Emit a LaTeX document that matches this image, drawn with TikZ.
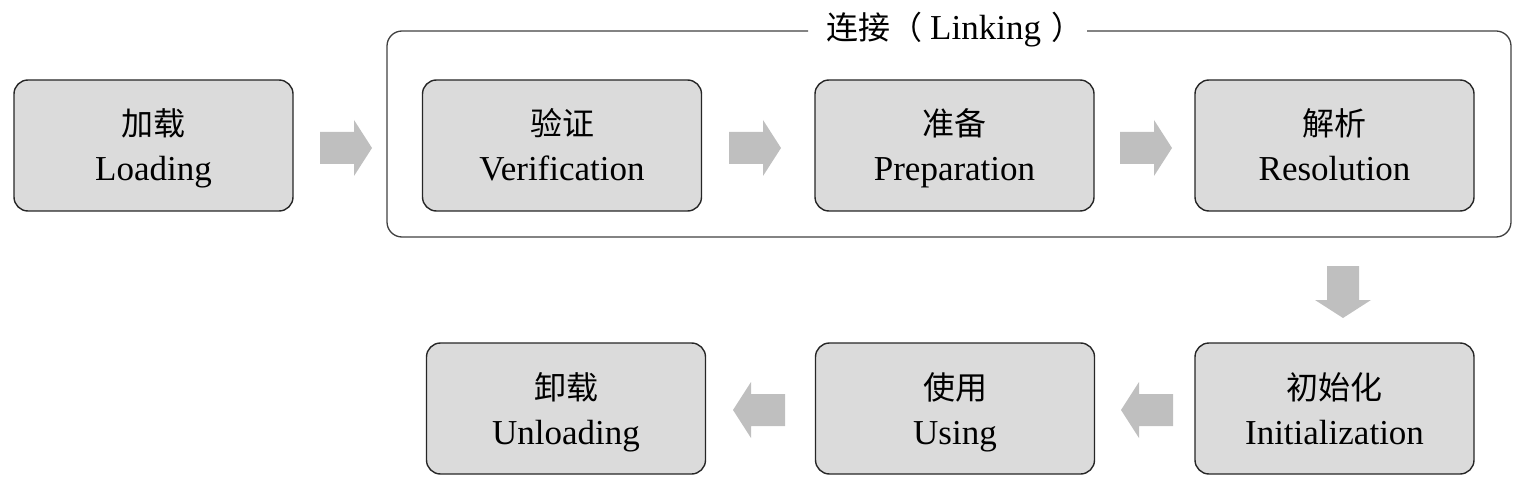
\documentclass[tikz,border=0pt]{standalone}
\usepackage{fontspec}
\setmainfont{Liberation Serif}
\newfontfamily\cjk[Scale=0.914]{Noto Sans CJK SC}
\newcommand{\lnstrut}{\rule[-8pt]{0pt}{42pt}}
\begin{document}
\begin{tikzpicture}[x=1pt,y=-1pt,
  stagebox/.style={draw=black!85, line width=1.4pt, fill=black!14, rounded corners=14pt,
    minimum width=279pt, minimum height=131pt, align=center, inner sep=0pt,
    font=\fontsize{35}{45}\selectfont},
  framebox/.style={draw=black!75, line width=1.3pt, rounded corners=15pt},
  blockarrow/.pic={\fill[black!25] (-26,-16) -- (8,-16) -- (8,-28) -- (26,0) -- (8,28) -- (8,16) -- (-26,16) -- cycle;}
]
\useasboundingbox (0,0) rectangle (1539,497);
% linking frame
\draw[framebox] (808,31) -- (387,31) -- (387,237) -- (1511,237) -- (1511,31) -- (1087,31);
\node[inner sep=0pt, anchor=base west, font=\fontsize{35}{40}\selectfont] (title) at (826,40) {{\cjk 连接（}\hspace{8pt}Linking\hspace{10pt}{\cjk ）}};
% stages
\node[stagebox] (load) at (153.5,145.5) {\lnstrut{\cjk 加载}\\\lnstrut Loading};
\node[stagebox] (veri) at (562,145.5) {\lnstrut{\cjk 验证}\\\lnstrut Verification};
\node[stagebox] (prep) at (954.5,145.5) {\lnstrut{\cjk 准备}\\\lnstrut Preparation};
\node[stagebox] (reso) at (1334.5,145.5) {\lnstrut{\cjk 解析}\\\lnstrut Resolution};
\node[stagebox] (init) at (1334.5,408.5) {\lnstrut{\cjk 初始化}\\\lnstrut Initialization};
\node[stagebox] (using) at (955,408.5) {\lnstrut{\cjk 使用}\\\lnstrut Using};
\node[stagebox] (unload) at (566,408.5) {\lnstrut{\cjk 卸载}\\\lnstrut Unloading};
% arrows
\pic at (346,148) {blockarrow};
\pic at (755,148) {blockarrow};
\pic at (1146,148) {blockarrow};
\pic[rotate=-90] at (1343,292) {blockarrow};
\pic[rotate=180] at (1147,410) {blockarrow};
\pic[rotate=180] at (759,410) {blockarrow};
\end{tikzpicture}
\end{document}
